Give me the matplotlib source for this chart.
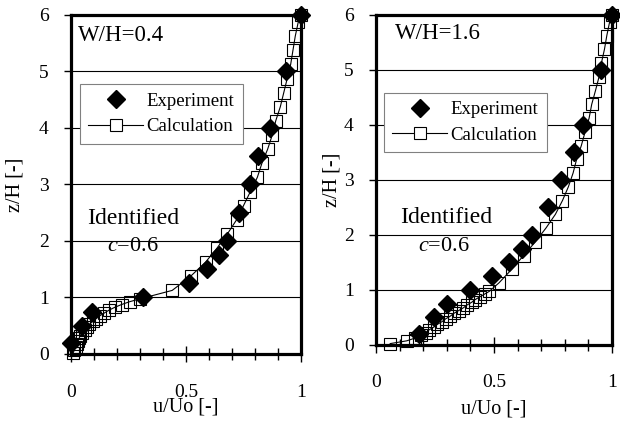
import matplotlib
matplotlib.use('Agg')
import matplotlib.pyplot as plt
from matplotlib.ticker import MultipleLocator, FixedLocator
from matplotlib.lines import Line2D

plt.rcParams['font.family'] = 'Liberation Serif'
plt.rcParams['mathtext.fontset'] = 'custom'
plt.rcParams['mathtext.rm'] = 'Liberation Serif'
plt.rcParams['mathtext.it'] = 'Liberation Serif:italic'

# experiment heights (z/H)
z_exp = [0.2, 0.5, 0.75, 1.0, 1.25, 1.5, 1.75, 2.0, 2.5, 3.0, 3.5, 4.0, 5.0, 6.0]
# W/H = 0.4
u_exp_04 = [0.0, 0.046, 0.09, 0.315, 0.515, 0.593, 0.643, 0.677, 0.729, 0.778, 0.812, 0.865, 0.933, 1.0]
# W/H = 1.6
u_exp_16 = [0.18, 0.247, 0.30, 0.398, 0.493, 0.564, 0.617, 0.663, 0.727, 0.784, 0.839, 0.876, 0.953, 1.0]

# calculation heights (cell centres)
z_calc = [0.025, 0.075, 0.125, 0.175, 0.225, 0.275, 0.325, 0.375, 0.425, 0.475,
          0.525, 0.575, 0.625, 0.675, 0.725, 0.775, 0.825, 0.875, 0.925, 0.975,
          1.125, 1.375, 1.625, 1.875, 2.125, 2.375, 2.625, 2.875, 3.125, 3.375,
          3.625, 3.875, 4.125, 4.375, 4.625, 4.875, 5.125, 5.375, 5.625, 5.875, 6.0]
u_calc_04 = [0.01, 0.015, 0.02, 0.025, 0.03, 0.035, 0.04, 0.05, 0.06, 0.07,
             0.08, 0.095, 0.11, 0.125, 0.145, 0.165, 0.19, 0.22, 0.255, 0.30,
             0.44, 0.52, 0.585, 0.635, 0.68, 0.72, 0.75, 0.78, 0.81, 0.83,
             0.855, 0.875, 0.89, 0.91, 0.925, 0.94, 0.955, 0.965, 0.975, 0.988, 1.0]
u_calc_16 = [0.06, 0.13, 0.165, 0.19, 0.21, 0.225, 0.245, 0.26, 0.28, 0.295,
             0.315, 0.33, 0.35, 0.37, 0.385, 0.405, 0.42, 0.44, 0.46, 0.48,
             0.52, 0.575, 0.625, 0.675, 0.72, 0.76, 0.79, 0.815, 0.835, 0.85,
             0.87, 0.886, 0.903, 0.914, 0.93, 0.945, 0.955, 0.968, 0.978, 0.99, 1.0]

panels = [
    # u_exp, u_calc, title, axes rect, legend anchor, W/H pos, Identified pos, c pos, xlabel y, ylabel x, xtick pad
    (u_exp_04, u_calc_04, 'W/H=0.4', [0.1145, 0.173, 0.371, 0.792],
     (0.039, 0.796), (0.03, 0.938), (0.068, 0.40), (0.157, 0.316), -0.127, -0.20, 15.5),
    (u_exp_16, u_calc_16, 'W/H=1.6', [0.6065, 0.194, 0.3806, 0.771],
     (0.034, 0.764), (0.08, 0.945), (0.10, 0.385), (0.178, 0.297), -0.165, -0.145, 15),
]

fig = plt.figure(figsize=(6.2, 4.28), dpi=100)

for (u_exp, u_calc, title, rect, leg_pos, t_pos, id_pos, c_pos, xl_y, yl_x, xpad) in panels:
    ax = fig.add_axes(rect)
    ax.plot(u_calc, z_calc, '-', color='black', lw=0.8, marker='s', ms=9,
            mfc='none', mec='black', mew=0.8, clip_on=False, zorder=3)
    ax.plot(u_exp, z_exp, 'D', color='black', ms=9.5, ls='none', clip_on=False, zorder=4)

    ax.set_xlim(0, 1)
    ax.set_ylim(0, 6)
    for sp in ax.spines.values():
        sp.set_linewidth(2.3)

    ax.xaxis.set_major_locator(FixedLocator([0, 0.5, 1]))
    ax.xaxis.set_minor_locator(MultipleLocator(0.1))
    ax.set_xticklabels(['0', '0.5', '1'])
    ax.yaxis.set_major_locator(MultipleLocator(1))
    ax.tick_params(axis='x', which='major', direction='inout', length=12, width=1,
                   labelsize=14, pad=xpad)
    ax.tick_params(axis='x', which='minor', direction='inout', length=8, width=1)
    ax.tick_params(axis='y', which='major', direction='out', length=5, width=1,
                   labelsize=14, pad=11)
    ax.yaxis.grid(True, color='black', lw=0.8)
    ax.set_axisbelow(True)

    ax.set_xlabel('u/Uo [-]', fontsize=14.5)
    ax.xaxis.set_label_coords(0.5, xl_y)
    ax.set_ylabel('z/H [-]', fontsize=14.5)
    ax.yaxis.set_label_coords(yl_x, 0.5)

    ax.text(t_pos[0], t_pos[1], title, transform=ax.transAxes, fontsize=16.5,
            ha='left', va='center')
    ax.text(id_pos[0], id_pos[1], 'Identified', transform=ax.transAxes, fontsize=17,
            ha='left', va='center')
    ax.text(c_pos[0], c_pos[1], r'$c$=0.6', transform=ax.transAxes, fontsize=16,
            ha='left', va='center')

    h_exp = Line2D([], [], ls='none', marker='D', color='black', ms=9.5)
    h_calc = Line2D([], [], ls='-', color='black', lw=0.8, marker='s', ms=9,
                    mfc='white', mec='black', mew=0.8)
    leg = ax.legend([h_exp, h_calc], ['Experiment', 'Calculation'], loc='upper left',
                    bbox_to_anchor=leg_pos, fontsize=13.5, frameon=True, fancybox=False,
                    edgecolor='gray', framealpha=1, handlelength=2.9, borderpad=0.45,
                    labelspacing=0.45, handletextpad=0.2, borderaxespad=0)
    leg.get_frame().set_linewidth(0.8)

fig.savefig('out.png', dpi=100)
